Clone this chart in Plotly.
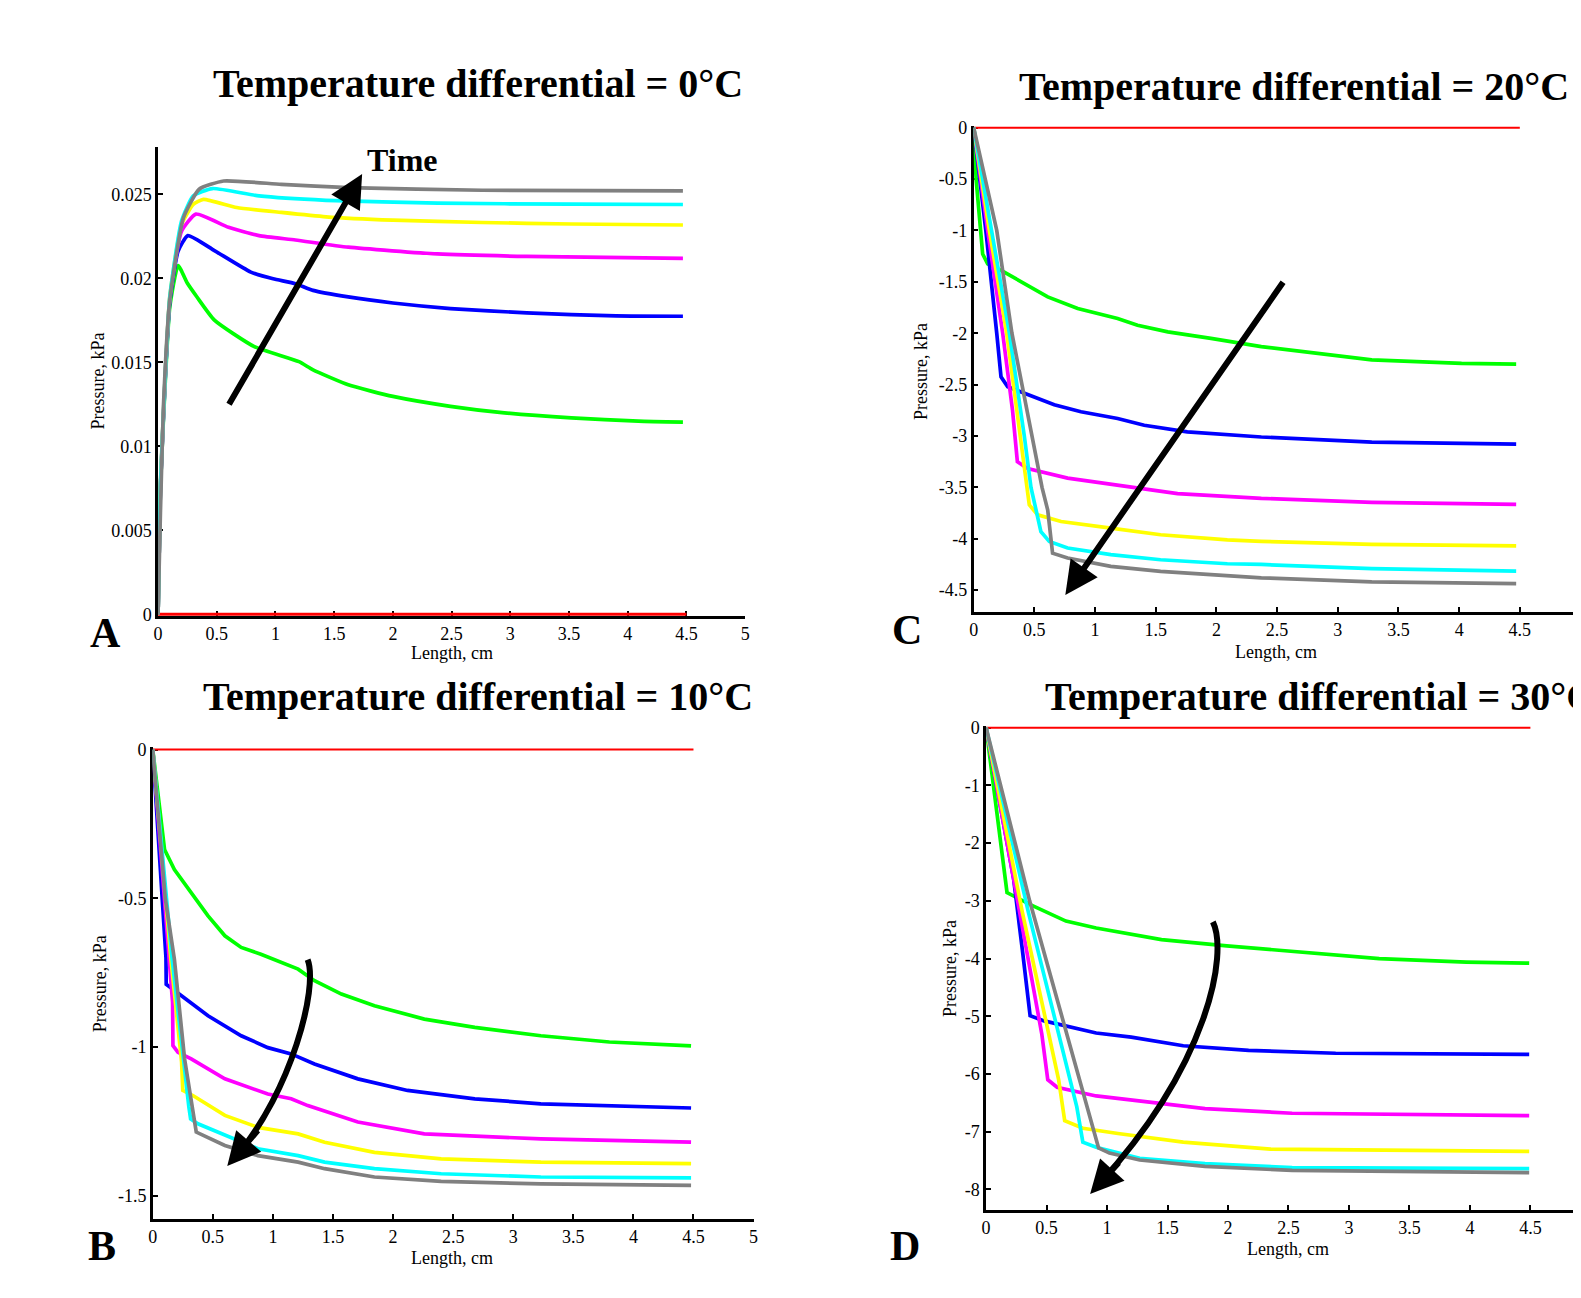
import plotly.graph_objects as go

FW, FH = 1581, 1298
# empirical mapping of page position -> photographed position (offset and scale)
OX, SX = 11.7, 0.994
OY, SY = 14.8, 0.989
FONT = "Liberation Serif"

# ---------------- data ----------------
x_ticks = [0, 0.5, 1, 1.5, 2, 2.5, 3, 3.5, 4, 4.5, 5]
x_ticktext = ["0", "0.5", "1", "1.5", "2", "2.5", "3", "3.5", "4", "4.5", "5"]

A_yticks = [0, 0.005, 0.01, 0.015, 0.02, 0.025]
A_yticktext = ["0", "0.005", "0.01", "0.015", "0.02", "0.025"]
B_yticks = [0, -0.5, -1, -1.5]
B_yticktext = ["0", "-0.5", "-1", "-1.5"]
C_yticks = [0, -0.5, -1, -1.5, -2, -2.5, -3, -3.5, -4, -4.5]
C_yticktext = ["0", "-0.5", "-1", "-1.5", "-2", "-2.5", "-3", "-3.5", "-4", "-4.5"]
D_yticks = [0, -1, -2, -3, -4, -5, -6, -7, -8]
D_yticktext = ["0", "-1", "-2", "-3", "-4", "-5", "-6", "-7", "-8"]

# Panel A (0 °C)
A_red_x = [0, 4.5]
A_red_y = [0, 0]
A_green_x = [0, 0.02, 0.065, 0.10, 0.171, 0.25, 0.33, 0.48, 0.82, 1.2, 1.32, 1.62, 2.0, 2.49, 2.95, 3.52, 4.09, 4.47]
A_green_y = [0, 0.0075, 0.01435, 0.0183, 0.02076, 0.0197, 0.0189, 0.01751, 0.01593, 0.01504, 0.01455, 0.01366, 0.01297, 0.01238, 0.01199, 0.01169, 0.0115, 0.01144]
A_blue_x = [0, 0.02, 0.065, 0.10, 0.17, 0.254, 0.48, 0.79, 0.98, 1.17, 1.32, 1.62, 2.0, 2.49, 3.14, 3.9, 4.47]
A_blue_y = [0, 0.0075, 0.0146, 0.0186, 0.0216, 0.02254, 0.02165, 0.02037, 0.01997, 0.01968, 0.01928, 0.01889, 0.01853, 0.0182, 0.01794, 0.01776, 0.01774]
A_magenta_x = [0, 0.02, 0.065, 0.10, 0.2, 0.323, 0.6, 0.86, 1.17, 1.62, 2.38, 3.14, 4.47]
A_magenta_y = [0, 0.0076, 0.0147, 0.0188, 0.0228, 0.02382, 0.02303, 0.02254, 0.02228, 0.02185, 0.02145, 0.0213, 0.02118]
A_yellow_x = [0, 0.02, 0.065, 0.10, 0.2, 0.3, 0.387, 0.67, 1.05, 1.43, 2.0, 2.76, 3.52, 4.47]
A_yellow_y = [0, 0.0077, 0.0148, 0.0189, 0.0232, 0.0244, 0.0247, 0.02421, 0.02392, 0.02366, 0.02346, 0.02332, 0.02323, 0.02317]
A_cyan_x = [0, 0.02, 0.065, 0.10, 0.2, 0.3, 0.463, 0.86, 1.43, 2.38, 3.52, 4.47]
A_cyan_y = [0, 0.0077, 0.0148, 0.0189, 0.0234, 0.0249, 0.02534, 0.0249, 0.02464, 0.02447, 0.02441, 0.02439]
A_gray_x = [0, 0.02, 0.046, 0.10, 0.216, 0.35, 0.558, 1.05, 1.62, 2.76, 4.47]
A_gray_y = [0, 0.0060, 0.0124, 0.0187, 0.0236, 0.0253, 0.02579, 0.02559, 0.0254, 0.02524, 0.0252]

# Panel B (10 °C)
B_red_x = [0, 4.5]
B_red_y = [0, 0]
B_green_x = [0, 0.098, 0.18, 0.32, 0.46, 0.6, 0.736, 0.9, 1.07, 1.21, 1.346, 1.57, 1.845, 2.26, 2.68, 3.23, 3.8, 4.48]
B_green_y = [0, -0.336, -0.403, -0.481, -0.559, -0.626, -0.665, -0.688, -0.714, -0.738, -0.777, -0.822, -0.861, -0.906, -0.934, -0.962, -0.983, -0.996]
B_blue_x = [0, 0.11, 0.112, 0.237, 0.46, 0.736, 0.958, 1.152, 1.346, 1.707, 2.12, 2.68, 3.23, 4.48]
B_blue_y = [0, -0.7, -0.789, -0.827, -0.895, -0.962, -1.002, -1.023, -1.057, -1.107, -1.146, -1.174, -1.191, -1.205]
B_magenta_x = [0, 0.14, 0.165, 0.168, 0.21, 0.32, 0.6, 0.958, 1.152, 1.29, 1.707, 2.26, 3.23, 4.48]
B_magenta_y = [0, -0.7, -0.85, -0.995, -1.018, -1.04, -1.107, -1.158, -1.174, -1.197, -1.252, -1.292, -1.309, -1.32]
B_yellow_x = [0, 0.15, 0.24, 0.25, 0.334, 0.6, 0.875, 1.21, 1.43, 1.845, 2.4, 3.23, 4.48]
B_yellow_y = [0, -0.7, -1.05, -1.146, -1.163, -1.23, -1.27, -1.292, -1.32, -1.354, -1.376, -1.387, -1.392]
B_cyan_x = [0, 0.16, 0.3, 0.315, 0.376, 0.6, 0.875, 1.21, 1.43, 1.845, 2.4, 3.23, 4.48]
B_cyan_y = [0, -0.7, -1.2, -1.242, -1.258, -1.297, -1.342, -1.365, -1.387, -1.409, -1.426, -1.437, -1.44]
B_gray_x = [0, 0.104, 0.18, 0.265, 0.362, 0.6, 0.875, 1.21, 1.43, 1.845, 2.4, 3.23, 4.48]
B_gray_y = [0, -0.5, -0.705, -1.04, -1.286, -1.331, -1.365, -1.387, -1.409, -1.437, -1.452, -1.46, -1.465]

# Panel C (20 °C)
C_red_x = [0, 4.5]
C_red_y = [0, 0]
C_green_x = [0, 0.02, 0.074, 0.115, 0.252, 0.39, 0.61, 0.857, 1.186, 1.35, 1.6, 1.955, 2.37, 3.28, 4.02, 4.47]
C_green_y = [0, -0.5, -1.23, -1.326, -1.405, -1.502, -1.647, -1.76, -1.857, -1.922, -1.987, -2.05, -2.13, -2.26, -2.294, -2.3]
C_blue_x = [0, 0.1, 0.19, 0.225, 0.28, 0.445, 0.664, 0.884, 1.186, 1.405, 1.76, 2.37, 3.28, 4.47]
C_blue_y = [0, -1.0, -2.0, -2.424, -2.521, -2.6, -2.697, -2.764, -2.83, -2.896, -2.96, -3.01, -3.06, -3.08]
C_magenta_x = [0, 0.115, 0.239, 0.32, 0.36, 0.445, 0.774, 1.27, 1.68, 2.37, 3.28, 4.47]
C_magenta_y = [0, -1.0, -2.0, -2.75, -3.25, -3.317, -3.41, -3.49, -3.56, -3.607, -3.645, -3.665]
C_yellow_x = [0, 0.129, 0.272, 0.38, 0.458, 0.527, 0.72, 1.13, 1.54, 2.09, 2.37, 3.28, 4.47]
C_yellow_y = [0, -1.0, -2.0, -3.0, -3.67, -3.767, -3.832, -3.896, -3.961, -4.01, -4.025, -4.055, -4.07]
C_cyan_x = [0, 0.148, 0.294, 0.417, 0.472, 0.554, 0.623, 0.774, 1.13, 1.54, 2.09, 2.37, 3.28, 4.47]
C_cyan_y = [0, -1.0, -2.0, -3.0, -3.5, -3.93, -4.027, -4.09, -4.155, -4.204, -4.243, -4.25, -4.29, -4.314]
C_gray_x = [0, 0.19, 0.315, 0.48, 0.563, 0.61, 0.65, 0.774, 1.13, 1.54, 2.09, 2.37, 3.28, 4.47]
C_gray_y = [0, -1.0, -2.0, -3.0, -3.5, -3.72, -4.14, -4.187, -4.268, -4.317, -4.36, -4.38, -4.42, -4.437]

# Panel D (30 °C)
D_red_x = [0, 4.5]
D_red_y = [0, 0]
D_green_x = [0, 0.12, 0.173, 0.37, 0.66, 0.91, 1.2, 1.45, 1.99, 2.53, 3.25, 3.97, 4.49]
D_green_y = [0, -1.99, -2.856, -3.07, -3.35, -3.47, -3.57, -3.67, -3.78, -3.876, -4.0, -4.06, -4.08]
D_blue_x = [0, 0.227, 0.3, 0.364, 0.48, 0.73, 0.91, 1.2, 1.63, 2.17, 2.89, 4.49]
D_blue_y = [0, -2.61, -3.85, -4.99, -5.08, -5.2, -5.29, -5.36, -5.51, -5.59, -5.64, -5.66]
D_magenta_x = [0, 0.25, 0.46, 0.51, 0.587, 0.91, 1.27, 1.81, 2.53, 4.49]
D_magenta_y = [0, -2.9, -5.3, -6.1, -6.23, -6.38, -6.47, -6.6, -6.68, -6.72]
D_yellow_x = [0, 0.3, 0.6, 0.65, 0.8, 1.09, 1.63, 2.35, 4.49]
D_yellow_y = [0, -3.2, -6.1, -6.81, -6.94, -7.03, -7.18, -7.3, -7.34]
D_cyan_x = [0, 0.35, 0.75, 0.8, 0.91, 1.27, 1.81, 2.53, 4.49]
D_cyan_y = [0, -3.2, -6.57, -7.18, -7.27, -7.46, -7.55, -7.62, -7.64]
D_gray_x = [0, 0.36, 0.93, 1.02, 1.27, 1.81, 2.53, 4.49]
D_gray_y = [0, -3.0, -7.28, -7.37, -7.49, -7.6, -7.67, -7.71]

COLORS = {"red": "#ff0000", "green": "#00ff00", "blue": "#0000ff", "magenta": "#ff00ff",
          "yellow": "#ffff00", "cyan": "#00ffff", "gray": "#808080"}

panels = {
    "A": dict(ax="x", ay="y", series=[("red", A_red_x, A_red_y), ("green", A_green_x, A_green_y),
                                       ("blue", A_blue_x, A_blue_y), ("magenta", A_magenta_x, A_magenta_y),
                                       ("yellow", A_yellow_x, A_yellow_y), ("cyan", A_cyan_x, A_cyan_y),
                                       ("gray", A_gray_x, A_gray_y)]),
    "C": dict(ax="x2", ay="y2", series=[("red", C_red_x, C_red_y), ("green", C_green_x, C_green_y),
                                         ("blue", C_blue_x, C_blue_y), ("magenta", C_magenta_x, C_magenta_y),
                                         ("yellow", C_yellow_x, C_yellow_y), ("cyan", C_cyan_x, C_cyan_y),
                                         ("gray", C_gray_x, C_gray_y)]),
    "B": dict(ax="x3", ay="y3", series=[("red", B_red_x, B_red_y), ("green", B_green_x, B_green_y),
                                         ("blue", B_blue_x, B_blue_y), ("magenta", B_magenta_x, B_magenta_y),
                                         ("yellow", B_yellow_x, B_yellow_y), ("cyan", B_cyan_x, B_cyan_y),
                                         ("gray", B_gray_x, B_gray_y)]),
    "D": dict(ax="x4", ay="y4", series=[("red", D_red_x, D_red_y), ("green", D_green_x, D_green_y),
                                         ("blue", D_blue_x, D_blue_y), ("magenta", D_magenta_x, D_magenta_y),
                                         ("yellow", D_yellow_x, D_yellow_y), ("cyan", D_cyan_x, D_cyan_y),
                                         ("gray", D_gray_x, D_gray_y)]),
}

fig = go.Figure()
for key, p in panels.items():
    for name, xs, ys in p["series"]:
        w = 3.7
        if name == "red":
            w = 3 if key == "A" else 2
        line = dict(color=COLORS[name], width=w)
        if key == "A":
            line.update(shape="spline", smoothing=0.5)
        fig.add_trace(go.Scatter(x=xs, y=ys, mode="lines", xaxis=p["ax"], yaxis=p["ay"],
                                 line=line, hoverinfo="skip", showlegend=False))


def PX(X):
    return ((X - OX) / SX) / FW


def PY(Y):
    return 1 - ((Y - OY) / SY) / FH


def dom_x(a, b):
    return [max(PX(a), 0.0), min(PX(b), 1.0)]


def dom_y(top, bottom):
    return [max(PY(bottom), 0.0), min(PY(top), 1.0)]


axis_common = dict(showline=True, linecolor="black", linewidth=2.5, ticks="inside", ticklen=5,
                   tickwidth=2, tickcolor="black", showgrid=False, zeroline=False,
                   tickfont=dict(family=FONT, size=18, color="black"), layer="below traces",
                   fixedrange=True)

# D's axis runs past the right edge; compute the visible range end
D_x0, D_ppu = 985.1, 121.0
D_xend = (OX + SX * FW - D_x0) / D_ppu

fig.update_layout(
    width=FW, height=FH, margin=dict(l=0, r=0, t=0, b=0),
    paper_bgcolor="white", plot_bgcolor="white", showlegend=False,
    xaxis=dict(axis_common, domain=dom_x(156.8, 744.1), range=[0, 5], tickvals=x_ticks,
               ticktext=x_ticktext, anchor="y"),
    yaxis=dict(axis_common, domain=dom_y(146.3, 616.1), range=[-0.0001, 0.0278], tickvals=A_yticks,
               ticktext=A_yticktext, anchor="x"),
    xaxis2=dict(axis_common, domain=dom_x(972.7, 1579.7), range=[0, 5], tickvals=x_ticks,
                ticktext=x_ticktext, anchor="y2"),
    yaxis2=dict(axis_common, domain=dom_y(125, 612), range=[-4.712, 0.0165], tickvals=C_yticks,
                ticktext=C_yticktext, anchor="x2"),
    xaxis3=dict(axis_common, domain=dom_x(151.5, 752.5), range=[0, 5], tickvals=x_ticks,
                ticktext=x_ticktext, anchor="y3"),
    yaxis3=dict(axis_common, domain=dom_y(747, 1220), range=[-1.577, 0.01], tickvals=B_yticks,
                ticktext=B_yticktext, anchor="x3"),
    xaxis4=dict(axis_common, domain=[PX(985.1), 1.0], range=[0, D_xend], tickvals=x_ticks,
                ticktext=x_ticktext, anchor="y4"),
    yaxis4=dict(axis_common, domain=dom_y(726, 1211), range=[-8.35, 0.035], tickvals=D_yticks,
                ticktext=D_yticktext, anchor="x4"),
)

ann = []


def paper_text(text, x, y, size, bold=False, angle=0, xanchor="center"):
    ann.append(dict(text=f"<b>{text}</b>" if bold else text, x=PX(x), y=PY(y), xref="paper",
                    yref="paper", showarrow=False, xanchor=xanchor, yanchor="middle",
                    textangle=angle, font=dict(family=FONT, size=size, color="black")))


# titles
paper_text("Temperature differential = 0°C", 209.7, 82.7, 40, bold=True, xanchor="left")
paper_text("Temperature differential = 20°C", 1016.4, 85.7, 40, bold=True, xanchor="left")
paper_text("Temperature differential = 10°C", 199.6, 696.7, 40, bold=True, xanchor="left")
paper_text("Temperature differential = 30°C", 1041.6, 696.7, 40, bold=True, xanchor="left")
# panel letters
paper_text("A", 103.9, 633, 42, bold=True)
paper_text("C", 905.5, 630, 42, bold=True)
paper_text("B", 100.8, 1247, 42, bold=True)
paper_text("D", 904.4, 1247, 42, bold=True)
# axis titles
paper_text("Length, cm", 450.7, 653.4, 18)
paper_text("Length, cm", 1275.5, 652.4, 18)
paper_text("Length, cm", 450.7, 1259.4, 18)
paper_text("Length, cm", 1287.6, 1250.3, 18)
paper_text("Pressure, kPa", 95.8, 381.1, 18, angle=-90)
paper_text("Pressure, kPa", 920.6, 371, 18, angle=-90)
paper_text("Pressure, kPa", 98.8, 985, 18, angle=-90)
paper_text("Pressure, kPa", 948.8, 969, 18, angle=-90)
paper_text("Time", 401, 159, 32, bold=True)


def arrow(xr, yr, head, tail):
    ann.append(dict(x=head[0], y=head[1], ax=tail[0], ay=tail[1], xref=xr, yref=yr, axref=xr, ayref=yr,
                    showarrow=True, arrowhead=2, arrowsize=1.1, arrowwidth=6, arrowcolor="black",
                    text="", standoff=0))


# straight arrows
arrow("x", "y", (1.738, 0.0262), (0.597, 0.01241))
arrow("x2", "y2", (0.755, -4.547), (2.558, -1.49))
# curved arrows: body as path shapes, heads as short annotation arrows
arrow("x3", "y3", (0.62, -1.40), (0.885, -1.275))
arrow("x4", "y4", (0.86, -8.08), (1.107, -7.51))

shapes = [
    dict(type="path", xref="x3", yref="y3",
         path="M 1.289,-0.706 C 1.38,-0.80 1.15,-1.15 0.70,-1.365",
         line=dict(color="black", width=6)),
    dict(type="path", xref="x4", yref="y4",
         path="M 1.875,-3.363 C 2.0,-3.9 1.85,-5.8 0.93,-7.92",
         line=dict(color="black", width=6)),
]

fig.update_layout(annotations=ann, shapes=shapes)
fig.write_html("out.html")
